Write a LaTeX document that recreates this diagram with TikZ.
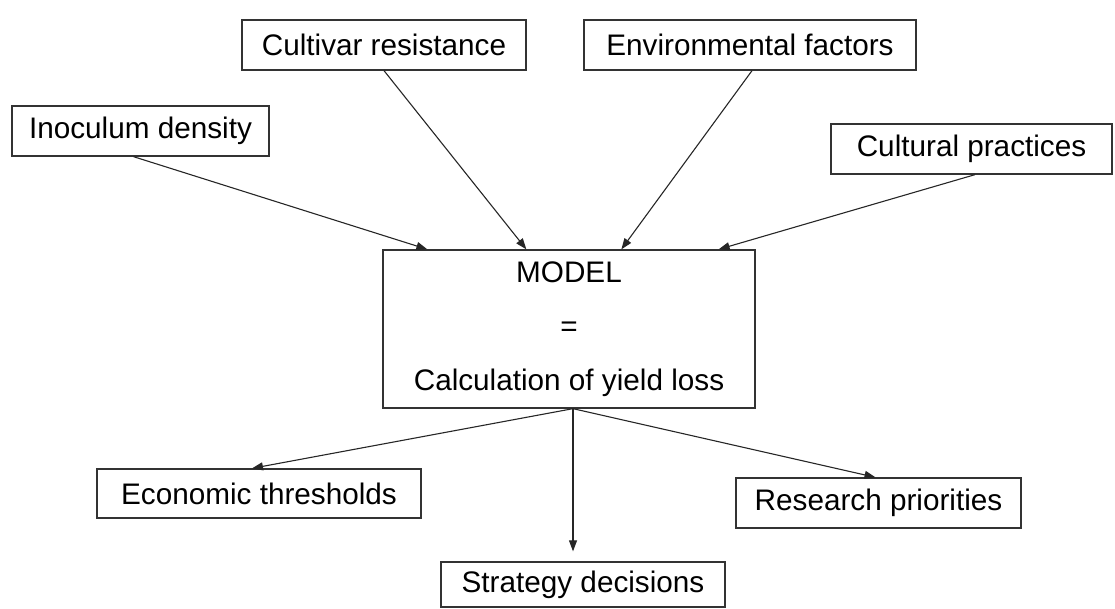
\documentclass[tikz,border=0pt]{standalone}
\usepackage{fontspec}
\setmainfont{Liberation Sans}
\usepackage{tikz}
\usetikzlibrary{arrows.meta}

\begin{document}
\begin{tikzpicture}[x=1pt, y=-1pt,
  box/.style={draw=black!80, line width=1.3pt, minimum height=50pt,
              inner sep=0pt, align=center, font=\fontsize{29.7}{36}\selectfont},
  arr/.style={-{Triangle[length=11pt,width=8pt]}, line width=1.1pt, draw=black!85}
]
  \useasboundingbox (0,0) rectangle (1115,608);

  % Nodes
  \node[box, minimum width=257pt] (inoc)   at (140.5,131) {Inoculum density};
  \node[box, minimum width=284pt] (cultiv) at (384,45)    {Cultivar resistance};
  \node[box, minimum width=332pt] (envir)  at (750,45)    {Environmental factors};
  \node[box, minimum width=281pt] (practc) at (971.5,149) {Cultural practices};
  \node[box, minimum width=372pt, minimum height=158pt,
        font=\fontsize{29.7}{54}\selectfont] (model) at (569,329)
        {MODEL\\=\\Calculation of yield loss};
  \node[box, minimum width=324pt, minimum height=49pt] (econ)  at (259,493.5) {Economic thresholds};
  \node[box, minimum width=284pt, minimum height=45pt] (strat) at (583,584.5) {Strategy decisions};
  \node[box, minimum width=285pt] (resrch) at (878.5,503) {Research priorities};

  \coordinate (hub) at ([xshift=4pt]model.south);

  % Paths
  \draw[arr] ([xshift=-7pt]inoc.south) -- ([xshift=45pt]model.north west);
  \draw[arr] (cultiv.south) -- ([xshift=144pt]model.north west);
  \draw[arr] ([xshift=2pt]envir.south) -- ([xshift=239pt]model.north west);
  \draw[arr] ([xshift=3.5pt]practc.south) -- ([xshift=-37pt]model.north east);
  \draw[arr] (hub) -- ([xshift=-7pt]econ.north);
  \draw[arr] (hub) -- ([yshift=10pt]strat.north -| hub);
  \draw[arr] (hub) -- ([xshift=-3pt]resrch.north);
\end{tikzpicture}
\end{document}
